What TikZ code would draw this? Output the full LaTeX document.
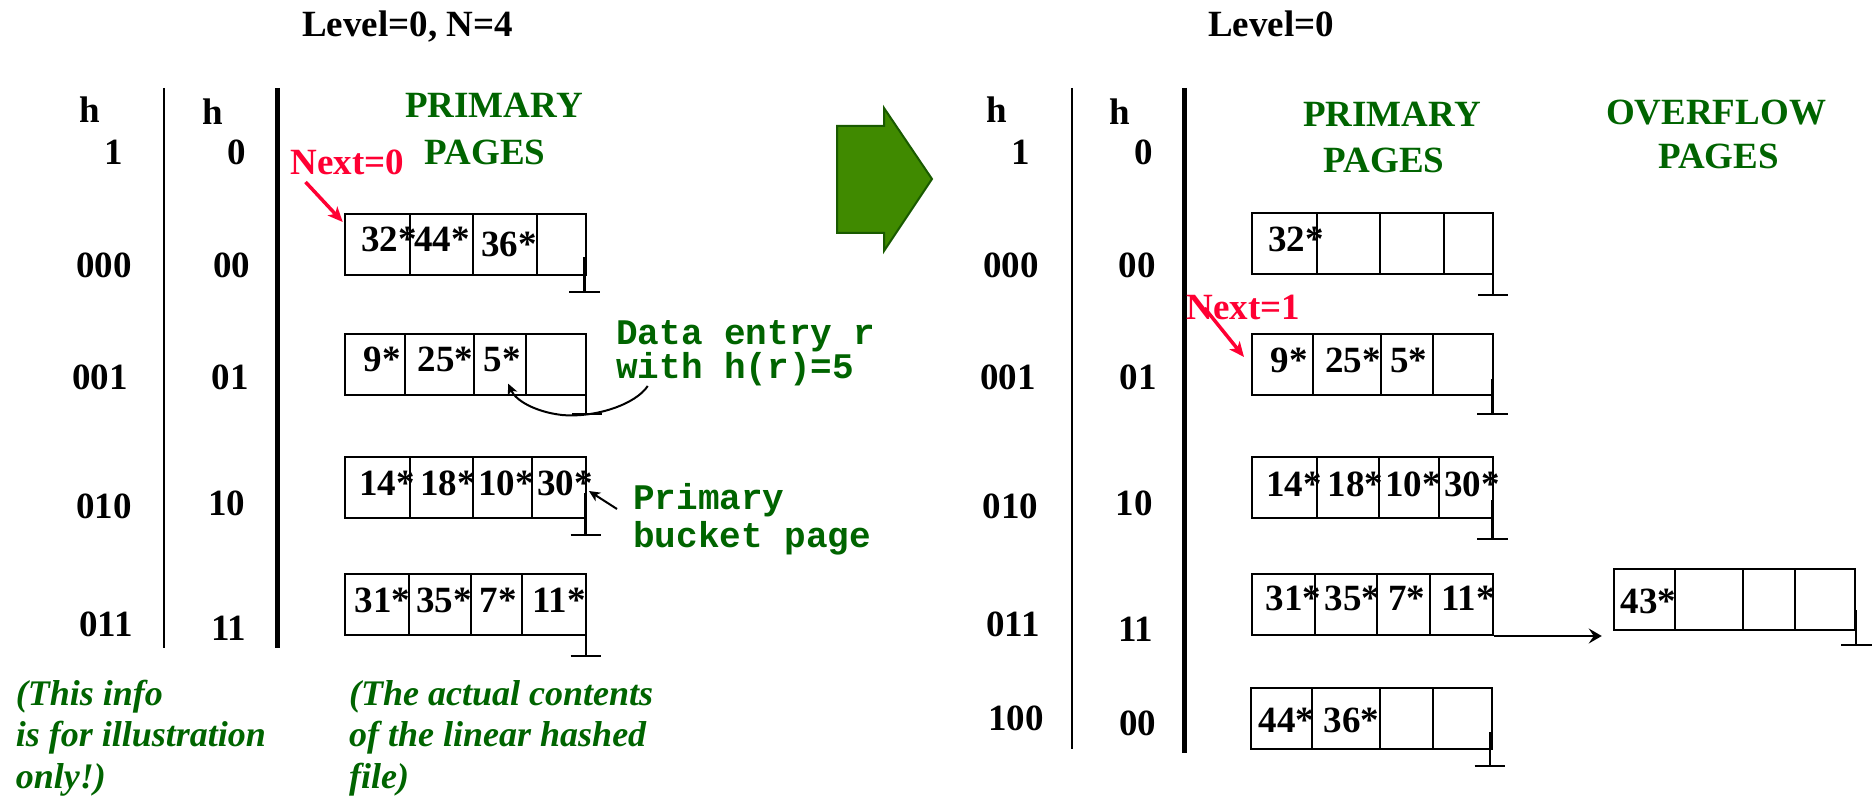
\documentclass[tikz,border=0pt]{standalone}
\usepackage{fontspec}
\setmainfont{Liberation Serif}
\setmonofont{Liberation Mono}
\usetikzlibrary{arrows.meta}
\definecolor{dkgreen}{RGB}{0,100,0}
\definecolor{nextred}{RGB}{255,0,51}
\definecolor{arrowfill}{RGB}{64,138,0}
\definecolor{arrowedge}{RGB}{25,90,0}
\begin{document}
\begin{tikzpicture}[x=1pt,y=-1pt,
  lab/.style={font=\fontsize{37}{40}\selectfont\bfseries, inner sep=0pt, anchor=base},
  glab/.style={lab, text=dkgreen},
  redlab/.style={lab, text=nextred},
  ital/.style={font=\fontsize{36}{41.5}\selectfont\bfseries\itshape, text=dkgreen, inner sep=0pt, anchor=base west, align=left},
  mono/.style={font=\fontsize{36}{40}\selectfont\ttfamily\bfseries, text=dkgreen, inner sep=0pt, anchor=base west, align=left},
  bucket/.style={draw, line width=2pt, minimum width=241pt, minimum height=61pt, inner sep=0pt},
  cellline/.style={line width=2pt},
  ground/.style={line width=2.8pt},
  thinsep/.style={line width=2.7pt},
  thicksep/.style={line width=5pt},
  nextarrow/.style={draw=nextred, line width=3.5pt, -{Stealth[length=15pt,width=13pt,inset=4pt]}},
  ovarrow/.style={line width=2pt, -{Stealth[length=13pt,width=15pt,inset=5pt]}},
  smallarrow/.style={line width=2pt, -{Stealth[length=11pt,width=10pt,inset=3pt]}},
  blockarrow/.style={line width=2pt, draw=arrowedge, fill=arrowfill}
]
\useasboundingbox (0,0) rectangle (1874,799);

% ---------------- LEFT PART ----------------
\node[lab] (lvlA) at (407.5,37) {Level=0, N=4};
\node[lab] (hA) at (90,123) {h};
\node[lab] (hAsub) at (113.5,165) {1};
\node[lab] (hB) at (212.5,125) {h};
\node[lab] (hBsub) at (236.5,165) {0};
\node[lab] (a000) at (104,278) {000};
\node[lab] (b00) at (231.5,278) {00};
\node[lab] (a001) at (100,390) {001};
\node[lab] (b01) at (230,390) {01};
\node[lab] (a010) at (104,518) {010};
\node[lab] (b10) at (226.5,515) {10};
\node[lab] (a011) at (106,636) {011};
\node[lab] (b11) at (229,640) {11};
\draw[thinsep] (164,88) -- (164,648);
\draw[thicksep] (277,88) -- (277,648);

\node[glab] (primA1) at (494,118) {PRIMARY};
\node[glab] (primA2) at (485,165) {PAGES};
\node[redlab] (next0) at (347.5,175) {Next=0};

% bucket L1
\node[bucket] (L1) at (465.25,244.5) {};
\foreach \x in {410,473,537} \draw[cellline] (\x,214) -- (\x,275);
\node[lab] (v32) at (389,252) {32*};
\node[lab] (v44) at (442,252) {44*};
\node[lab] (v36) at (509,257) {36*};
\draw[ground] (584.5,257) -- (584.5,292) (569,292) -- (600,292);
\draw[nextarrow] ([shift={(15pt,-7pt)}]next0.base west) -- ([shift={(-1pt,-9pt)}]L1.north west);

% bucket L2
\node[bucket] (L2) at (465.5,364.5) {};
\foreach \x in {405,474,526} \draw[cellline] (\x,334) -- (\x,395);
\node[lab] (v9) at (382,372) {9*};
\node[lab] (v25) at (445.5,372) {25*};
\node[lab] (v5) at (502,372) {5*};
\draw[ground] (586,379) -- (586,414) (572,414) -- (602,414);

% bucket L3
\node[bucket] (L3) at (465.25,487) {};
\foreach \x in {409.5,473,532} \draw[cellline] (\x,457) -- (\x,517);
\node[lab] (v14) at (387,495) {14*};
\node[lab] (v18) at (448,495) {18*};
\node[lab] (v10) at (506,495) {10*};
\node[lab] (v30) at (565,495) {30*};
\draw[ground] (585.5,493) -- (585.5,535) (570.5,535) -- (601,535);

% bucket L4
\node[bucket] (L4) at (465.5,604.5) {};
\foreach \x in {408.5,471,522} \draw[cellline] (\x,574) -- (\x,635);
\node[lab] (v31) at (382.5,612) {31*};
\node[lab] (v35) at (444,612) {35*};
\node[lab] (v7) at (498,612) {7*};
\node[lab] (v11) at (559,612) {11*};
\draw[ground] (586,615) -- (586,656) (570.5,656) -- (600.5,656);

% annotations (multi-line nodes: base = baseline of last line)
\node[mono, font=\fontsize{36}{32}\selectfont\ttfamily\bfseries] (dataA) at (616,379) {Data entry r\\with h(r)=5};
\draw[smallarrow] ([shift={(31.7pt,-7pt)}]dataA.base west) .. controls (636,404) and (596,418) .. (562,415) .. controls (536,412) and (516,401) .. ([shift={(6pt,-11pt)}]v5.south);
\node[mono, font=\fontsize{36}{38}\selectfont\ttfamily\bfseries] (pbA) at (633,547) {Primary\\bucket page};
\draw[smallarrow] ([shift={(-16pt,38pt)}]pbA.base west) -- ([shift={(-4pt,4pt)}]v30.base east);

\node[ital] (noteA) at (15.6,788) {(This info\\is for illustration\\only!)};
\node[ital] (noteB) at (349,788) {(The actual contents\\of the linear hashed\\file)};

% block arrow
\draw[blockarrow] (837,126) -- (884,126) -- (884,108) -- (932,179) -- (884,251) -- (884,233) -- (837,233) -- cycle;

% ---------------- RIGHT PART ----------------
\node[lab] (lvlB) at (1271,37) {Level=0};
\node[lab] (hC) at (997,123) {h};
\node[lab] (hCsub) at (1020.5,165) {1};
\node[lab] (hD) at (1120,125) {h};
\node[lab] (hDsub) at (1143.5,165) {0};
\node[lab] (c000) at (1011,278) {000};
\node[lab] (d00) at (1137,278) {00};
\node[lab] (c001) at (1008,390) {001};
\node[lab] (d01) at (1138,390) {01};
\node[lab] (c010) at (1010.5,518) {010};
\node[lab] (d10) at (1134,515) {10};
\node[lab] (c011) at (1013,636) {011};
\node[lab] (d11) at (1135.5,641) {11};
\node[lab] (c100) at (1016,730) {100};
\node[lab] (d00b) at (1137.5,735) {00};
\draw[thinsep] (1072,88) -- (1072,749);
\draw[thicksep] (1184,88) -- (1184,753);

\node[glab] (primB1) at (1392,127) {PRIMARY};
\node[glab] (primB2) at (1384,173) {PAGES};
\node[glab] (ovfl1) at (1716,125) {OVERFLOW};
\node[glab] (ovfl2) at (1718.5,169) {PAGES};
\node[redlab] (next1) at (1243.5,320) {Next=1};

% bucket R1
\node[bucket] (R1) at (1372.5,244) {};
\foreach \x in {1317,1380,1444} \draw[cellline] (\x,214) -- (\x,274);
\node[lab] (w32) at (1296,252) {32*};
\draw[ground] (1493,260) -- (1493,295) (1478,295) -- (1507.5,295);

% bucket R2
\node[bucket] (R2) at (1372.5,364.5) {};
\foreach \x in {1312.5,1381,1432.5} \draw[cellline] (\x,334) -- (\x,395);
\node[lab] (w9) at (1289,373) {9*};
\node[lab] (w25) at (1353,373) {25*};
\node[lab] (w5) at (1408.5,373) {5*};
\draw[ground] (1492.6,379) -- (1492.6,414) (1477,414) -- (1508,414);
\draw[nextarrow] ([shift={(18pt,12pt)}]next1.base west) -- ([shift={(-7pt,-24pt)}]R2.north west);

% bucket R3
\node[bucket] (R3) at (1372.5,487) {};
\foreach \x in {1317,1378.5,1438.5} \draw[cellline] (\x,457) -- (\x,517);
\node[lab] (w14) at (1294,496) {14*};
\node[lab] (w18) at (1355.5,496) {18*};
\node[lab] (w10) at (1413,496) {10*};
\node[lab] (w30) at (1472,496) {30*};
\draw[ground] (1492.6,500) -- (1492.6,539) (1477,539) -- (1508,539);

% bucket R4
\node[bucket] (R4) at (1372.5,604.5) {};
\foreach \x in {1315,1377,1430} \draw[cellline] (\x,574) -- (\x,635);
\node[lab] (w31) at (1293.7,610) {31*};
\node[lab] (w35) at (1352.7,610) {35*};
\node[lab] (w7) at (1406.5,610) {7*};
\node[lab] (w11) at (1468,610) {11*};

% overflow bucket
\node[bucket] (O) at (1734.75,599) {};
\foreach \x in {1674.5,1743,1794.5} \draw[cellline] (\x,569) -- (\x,629);
\node[lab] (w43) at (1648.5,613) {43*};
\draw[ground] (1856,610) -- (1856,645) (1841,645) -- (1872,645);
\draw[ovarrow, shorten >=11.5pt] (R4.south east) -- (R4.south east -| O.west);

% bucket R5
\node[bucket] (R5) at (1371.6,718) {};
\foreach \x in {1311.6,1380,1432.5} \draw[cellline] (\x,688) -- (\x,748);
\node[lab] (w44) at (1286.5,732) {44*};
\node[lab] (w36) at (1351.7,732) {36*};
\draw[ground] (1490,732) -- (1490,766) (1474.6,766) -- (1504.6,766);
\end{tikzpicture}
\end{document}
